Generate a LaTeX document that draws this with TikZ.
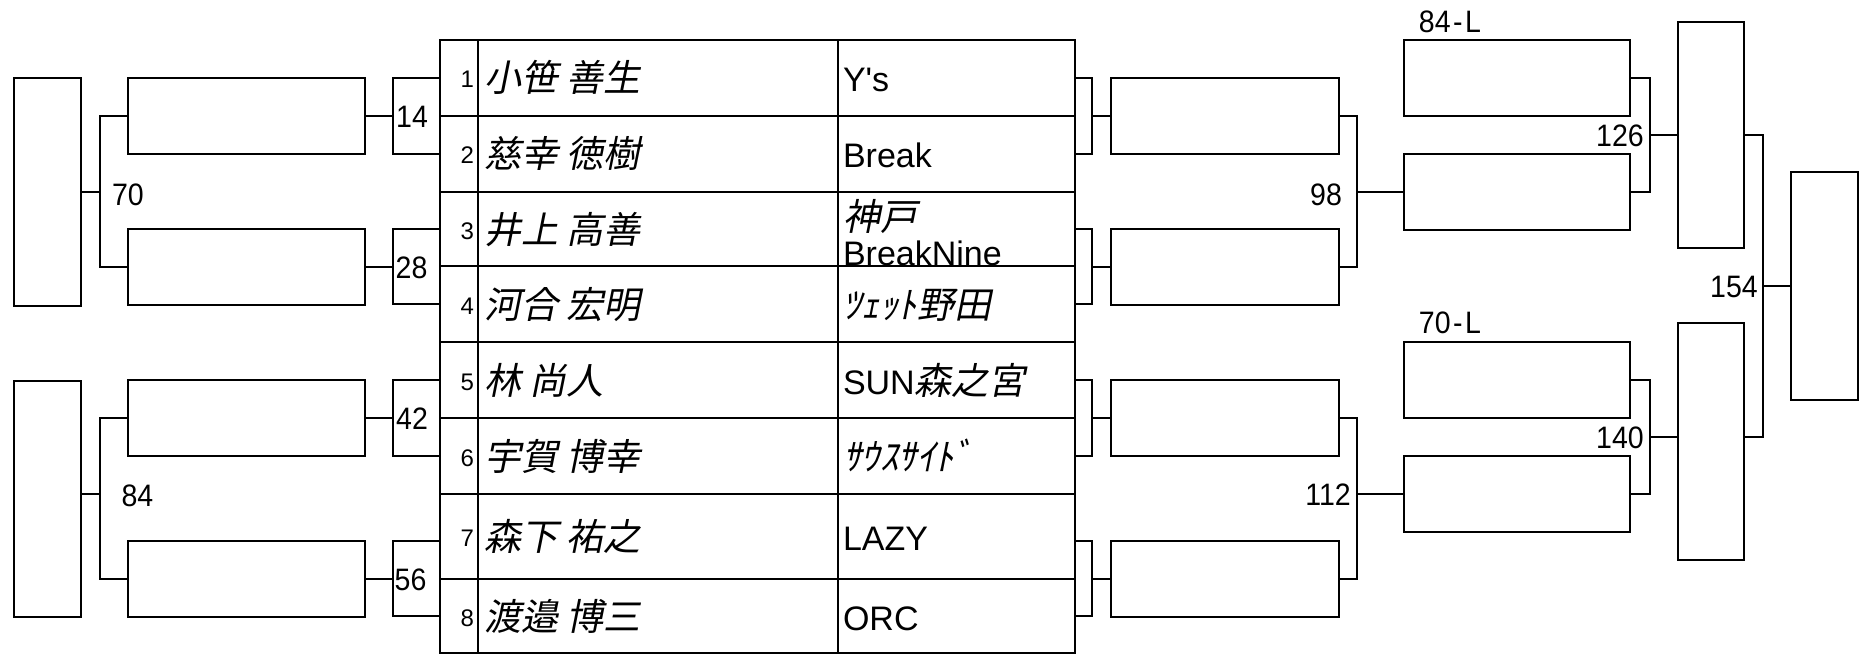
\documentclass[tikz,border=0pt]{standalone}
\usepackage{fontspec}
\newfontfamily\lat{Liberation Sans}
\newfontfamily\latn{Liberation Sans}[FakeStretch=0.92]
\newfontfamily\cjk{Noto Sans CJK JP}[FakeSlant=0.2]
\usetikzlibrary{fit,calc}
\newcommand\mkbox[5]{\node[box, fit={(#2,#3) (#4,#5)}] (#1) {};}
\begin{document}
\begin{tikzpicture}[x=1bp, y=-1bp, line width=2.3bp,
  box/.style={draw, rectangle, inner sep=0pt, line width=2.3bp},
  numlbl/.style={font={\latn\fontsize{31bp}{31bp}\selectfont}, inner sep=0pt},
  seed/.style={font={\lat\fontsize{24bp}{24bp}\selectfont}, inner sep=0pt, anchor=base east},
  pname/.style={font={\cjk\fontsize{37bp}{40bp}\selectfont}, inner sep=0pt, anchor=base west},
  team/.style={font={\lat\fontsize{34bp}{36bp}\selectfont}, inner sep=0pt, anchor=base west},
  cjkteam/.style={font={\cjk\fontsize{37bp}{40bp}\selectfont}, inner sep=0pt, anchor=base west}]
\useasboundingbox (0,0) rectangle (1862,660);

% ---- table ----
\foreach \i/\a/\b in {1/40/116, 2/116/192, 3/192/266, 4/266/342, 5/342/418, 6/418/494, 7/494/579, 8/579/653} {
  \node[box, fit={(440,\a) (478,\b)}] (N\i) {};
  \node[box, fit={(478,\a) (838,\b)}] (M\i) {};
  \node[box, fit={(838,\a) (1075,\b)}] (T\i) {};
  \node[seed] at ($(N\i.east)+(-4,10)$) {\i};
}
\node[pname] at ($(M1.west)+(6,14)$) {小笹 善生};
\node[pname] at ($(M2.west)+(6,14)$) {慈幸 徳樹};
\node[pname] at ($(M3.west)+(6,14)$) {井上 高善};
\node[pname] at ($(M4.west)+(6,14)$) {河合 宏明};
\node[pname] at ($(M5.west)+(6,14)$) {林 尚人};
\node[pname] at ($(M6.west)+(6,14)$) {宇賀 博幸};
\node[pname] at ($(M7.west)+(6,14)$) {森下 祐之};
\node[pname] at ($(M8.west)+(6,14)$) {渡邉 博三};

\node[team] at ($(T1.west)+(5,14)$) {Y's};
\node[team] at ($(T2.west)+(5,14)$) {Break};
\node[cjkteam] at ($(T3.west)+(5,1.5)$) {神戸};
\node[team] at ($(T3.west)+(5,36)$) {BreakNine};
\node[cjkteam] at ($(T4.west)+(5,14)$) {ﾂｪｯﾄ野田};
\node[team] at ($(T5.west)+(5,14)$) {SUN{\cjk\fontsize{37bp}{40bp}\selectfont 森之宮}};
\node[cjkteam] at ($(T6.west)+(5,14)$) {ｻｳｽｻｲﾄﾞ};
\node[team] at ($(T7.west)+(5,14)$) {LAZY};
\node[team] at ($(T8.west)+(5,14)$) {ORC};

% ---- left boxes ----
\mkbox{L3a}{14}{78}{81}{306}
\mkbox{L3b}{14}{381}{81}{617}
\mkbox{L2a}{128}{78}{365}{154}
\mkbox{L2b}{128}{229}{365}{305}
\mkbox{L2c}{128}{380}{365}{456}
\mkbox{L2d}{128}{541}{365}{617}
% ---- right boxes ----
\mkbox{R1a}{1111}{78}{1339}{154}
\mkbox{R1b}{1111}{229}{1339}{305}
\mkbox{R1c}{1111}{380}{1339}{456}
\mkbox{R1d}{1111}{541}{1339}{617}
\mkbox{R2a}{1404}{40}{1630}{116}
\mkbox{R2b}{1404}{154}{1630}{230}
\mkbox{R2c}{1404}{342}{1630}{418}
\mkbox{R2d}{1404}{456}{1630}{532}
\mkbox{R3a}{1678}{22}{1744}{248}
\mkbox{R3b}{1678}{323}{1744}{560}
\mkbox{F}{1791}{172}{1858}{400}

% ---- junction points ----
\coordinate (k14) at (393,116);
\coordinate (k28) at (393,267);
\coordinate (k42) at (393,418);
\coordinate (k56) at (393,579);
\coordinate (k70) at (100,192);
\coordinate (k84) at (100,494);
\coordinate (j1) at (1092,116);
\coordinate (j2) at (1092,267);
\coordinate (j3) at (1092,418);
\coordinate (j4) at (1092,579);
\coordinate (k98) at (1357,192);
\coordinate (k112) at (1357,494);
\coordinate (k126) at (1650,135);
\coordinate (k140) at (1650,437);
\coordinate (k154) at (1763,286);

% ---- left connectors ----
\draw (N1.west) -| (k14) |- (N2.west);  \draw (L2a.east) -- (L2a.east -| k14);
\draw (N3.west) -| (k28) |- (N4.west);  \draw (L2b.east) -- (L2b.east -| k28);
\draw (N5.west) -| (k42) |- (N6.west);  \draw (L2c.east) -- (L2c.east -| k42);
\draw ($(N7.west)+(0,4.5)$) -| (k56) |- (N8.west);  \draw (L2d.east) -- (L2d.east -| k56);
\draw (L2a.west) -| (k70) |- (L2b.west); \draw (k70 -| L3a.east) -- (k70);
\draw (L2c.west) -| (k84) |- (L2d.west); \draw (k84 -| L3b.east) -- (k84);

% ---- right connectors ----
\draw (T1.east) -| (j1) |- (T2.east);  \draw (j1) -- (j1 -| R1a.west);
\draw (T3.east) -| (j2) |- (T4.east);  \draw (j2) -- (j2 -| R1b.west);
\draw (T5.east) -| (j3) |- (T6.east);  \draw (j3) -- (j3 -| R1c.west);
\draw ($(T7.east)+(0,4.5)$) -| (j4) |- (T8.east);  \draw (j4) -- (j4 -| R1d.west);
\draw (R1a.east) -| (k98) |- (R1b.east);  \draw (k98) -- (k98 -| R2b.west);
\draw (R1c.east) -| (k112) |- (R1d.east); \draw (k112) -- (k112 -| R2d.west);
\draw (R2a.east) -| (k126) |- (R2b.east); \draw (k126) -- (k126 -| R3a.west);
\draw (R2c.east) -| (k140) |- (R2d.east); \draw (k140) -- (k140 -| R3b.west);
\draw (R3a.east |- k126) -| (k154) |- (R3b.east |- k140); \draw (k154) -- (k154 -| F.west);

% ---- labels ----
\node[numlbl] at (128,195) {70};
\node[numlbl] at (137.5,496) {84};
\node[numlbl] at (412,117) {14};
\node[numlbl] at (411.5,268) {28};
\node[numlbl] at (412,418.5) {42};
\node[numlbl] at (410.5,580) {56};
\node[numlbl] at (1326,195) {98};
\node[numlbl] at (1328,495) {112};
\node[numlbl] at (1620,136) {126};
\node[numlbl] at (1620,438) {140};
\node[numlbl] at (1734,287) {154};
\node[numlbl] at (1450,22) {84\kern2.5bp-\kern2.5bp L};
\node[numlbl] at (1450,323) {70\kern2.5bp-\kern2.5bp L};
\end{tikzpicture}
\end{document}
